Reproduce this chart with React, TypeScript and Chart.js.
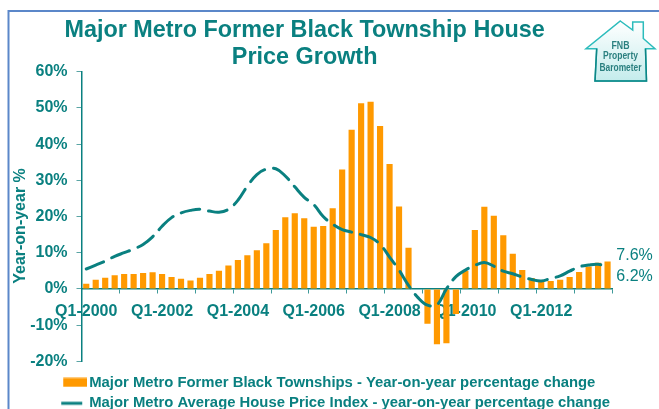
import React, { useEffect, useRef } from "react";
import { Chart, registerables } from "chart.js";

Chart.register(...registerables);

const TEAL = "#0a8080";
const FONT = "'Liberation Sans', Arial, sans-serif";

const categories = [
  "Q1-2000","Q2-2000","Q3-2000","Q4-2000","Q1-2001","Q2-2001","Q3-2001","Q4-2001",
  "Q1-2002","Q2-2002","Q3-2002","Q4-2002","Q1-2003","Q2-2003","Q3-2003","Q4-2003",
  "Q1-2004","Q2-2004","Q3-2004","Q4-2004","Q1-2005","Q2-2005","Q3-2005","Q4-2005",
  "Q1-2006","Q2-2006","Q3-2006","Q4-2006","Q1-2007","Q2-2007","Q3-2007","Q4-2007",
  "Q1-2008","Q2-2008","Q3-2008","Q4-2008","Q1-2009","Q2-2009","Q3-2009","Q4-2009",
  "Q1-2010","Q2-2010","Q3-2010","Q4-2010","Q1-2011","Q2-2011","Q3-2011","Q4-2011",
  "Q1-2012","Q2-2012","Q3-2012","Q4-2012","Q1-2013","Q2-2013","Q3-2013","Q4-2013",
];

const townshipValues = [
  1.4,2.5,3.1,3.8,4.1,4.1,4.4,4.6,4.1,3.3,2.8,2.3,3.1,4.1,5.0,6.5,
  8.0,9.3,10.7,12.6,16.3,19.8,20.9,19.5,17.2,17.4,22.3,33.0,44.0,51.3,51.7,45.0,
  34.5,22.8,11.4,0.1,-9.6,-15.3,-15.0,-6.9,5.0,16.3,22.7,20.2,14.8,9.7,5.2,3.0,
  2.0,2.2,2.5,3.3,4.7,6.2,7.2,7.6,
];

const metroValues = [
  5.5,6.6,7.7,9.0,10.0,11.0,12.3,14.4,17.3,19.7,21.0,21.7,22.0,21.5,21.2,22.0,
  24.5,28.4,31.6,33.1,33.2,31.2,28.2,25.3,23.3,20.0,17.9,16.4,15.7,15.0,14.2,12.3,
  8.8,5.2,1.0,-2.4,-4.5,-4.4,0.0,3.4,5.2,6.5,7.3,6.3,4.9,4.2,3.3,2.6,
  2.2,2.9,3.6,4.9,6.1,6.6,6.8,6.2,
];

const titleLines = ["Major Metro Former Black Township House", "Price Growth"];
const yAxisTitle = "Year-on-year %";
const legendLabels = [
  "Major Metro Former Black Townships - Year-on-year percentage change",
  "Major Metro Average House Price Index - year-on-year percentage change",
];
const logoLines = ["FNB", "Property", "Barometer"];

function swatch(total: number, x: number, w: number, h: number, color: string) {
  const c = document.createElement("canvas");
  c.width = total;
  c.height = 10;
  const g = c.getContext("2d")!;
  g.fillStyle = color;
  g.fillRect(x, (10 - h) / 2, w, h);
  return c;
}

const decorPlugin = {
  id: "decor",
  afterLayout(chart: any) {
    chart.legend.left = 57.75;
    chart.legend.top = 369;
  },
  beforeDraw(chart: any) {
    const c = chart.ctx;
    c.save();
    c.strokeStyle = "#5b87c9";
    c.lineWidth = 2;
    c.beginPath();
    c.moveTo(8.5, 409);
    c.lineTo(8.5, 11);
    c.lineTo(659, 11);
    c.stroke();
    c.restore();
  },
  afterDraw(chart: any) {
    const c = chart.ctx;
    const y = chart.scales.y;
    const x = chart.scales.x;
    c.save();
    c.fillStyle = TEAL;
    c.font = `bold 16px ${FONT}`;
    c.textAlign = "center";
    c.textBaseline = "middle";
    c.save();
    c.translate(21, 226);
    c.rotate(-Math.PI / 2);
    c.fillText(yAxisTitle, 0, 0);
    c.restore();

    c.font = `16px ${FONT}`;
    c.textAlign = "left";
    const lastBar = townshipValues[townshipValues.length - 1];
    const lastLine = metroValues[metroValues.length - 1];
    c.fillText(lastBar.toFixed(1) + "%", x.right + 4, y.getPixelForValue(lastBar) - 6);
    c.fillText(lastLine.toFixed(1) + "%", x.right + 4, y.getPixelForValue(lastLine) + 10);

    // logo
    const grad = c.createLinearGradient(0, 21, 0, 81);
    grad.addColorStop(0, "#ffffff");
    grad.addColorStop(1, "#c4ecec");
    c.beginPath();
    c.moveTo(620.3, 21);
    c.lineTo(632.7, 30);
    c.lineTo(632.7, 22);
    c.lineTo(643.3, 22);
    c.lineTo(643.3, 38.5);
    c.lineTo(655, 48.7);
    c.lineTo(645.5, 48.7);
    c.lineTo(646.5, 81);
    c.lineTo(595, 81);
    c.lineTo(596.7, 48.7);
    c.lineTo(586, 48.7);
    c.closePath();
    c.fillStyle = grad;
    c.fill();
    c.strokeStyle = "#2cbcbc";
    c.lineWidth = 1.5;
    c.stroke();
    c.beginPath();
    c.moveTo(645.5, 48.7);
    c.lineTo(646.5, 81);
    c.lineTo(595, 81);
    c.lineTo(596.7, 48.7);
    c.strokeStyle = "#0f8585";
    c.stroke();
    c.fillStyle = "#2a7f7f";
    c.font = `bold 10px ${FONT}`;
    c.textAlign = "center";
    logoLines.forEach((t, i) => c.fillText(t, 620.5, [46, 56.5, 68][i], [18, 35, 42][i]));
    c.restore();
  },
};

export default function App() {
  const ref = useRef<HTMLCanvasElement>(null);
  useEffect(() => {
    const barSwatch = swatch(29, 5, 24, 9, "#ff9900");
    const lineSwatch = swatch(29, 3, 21, 3, TEAL);
    const chart = new Chart(ref.current!, {
      type: "bar",
      data: {
        labels: categories,
        datasets: [
          {
            type: "line",
            label: legendLabels[1],
            data: metroValues,
            borderColor: TEAL,
            borderWidth: 3,
            borderDash: [19, 9],
            borderCapStyle: "round",
            pointRadius: 0,
            tension: 0.4,
            fill: false,
            order: 1,
          },
          {
            type: "bar",
            label: legendLabels[0],
            data: townshipValues,
            backgroundColor: "#ff9900",
            barPercentage: 0.65,
            categoryPercentage: 1,
            order: 2,
          },
        ],
      } as any,
      options: {
        responsive: false,
        animation: false,
        layout: { padding: { left: -3, right: 46.7, top: 0, bottom: -4 } },
        plugins: {
          tooltip: { enabled: false },
          title: {
            display: true,
            text: titleLines,
            color: TEAL,
            font: { family: FONT, size: 23.4, weight: "bold", lineHeight: 1.14 },
            padding: { top: 17.3, bottom: 1.1 },
          },
          legend: {
            position: "bottom",
            align: "start",
            labels: {
              color: TEAL,
              font: { family: FONT, size: 14.85, weight: "bold" },
              padding: 6,
              usePointStyle: true,
              pointStyleWidth: 18,
              boxHeight: 10,
              generateLabels: () => [
                { text: legendLabels[0], fontColor: TEAL, pointStyle: barSwatch, fillStyle: "#ff9900", strokeStyle: "#ff9900", lineWidth: 0, datasetIndex: 1 },
                { text: legendLabels[1], fontColor: TEAL, pointStyle: lineSwatch, fillStyle: TEAL, strokeStyle: TEAL, lineWidth: 0, datasetIndex: 0 },
              ],
            },
          },
        },
        scales: {
          x: {
            position: { y: 0 },
            offset: true,
            border: { color: TEAL, width: 1.5 },
            grid: {
              offset: true,
              drawOnChartArea: false,
              tickLength: 4,
              tickColor: (ctx: any) => ((ctx.index ?? 0) % 4 === 0 ? "#3f9a9a" : "transparent"),
            },
            ticks: {
              autoSkip: false,
              maxRotation: 0,
              minRotation: 0,
              padding: 9,
              color: TEAL,
              font: { family: FONT, size: 16, weight: "bold" },
              callback: (_v: any, i: number) => (i % 8 === 0 ? categories[i] : ""),
            },
          },
          y: {
            min: -20,
            max: 60,
            afterFit: (s: any) => {
              s.width = 84.5;
            },
            border: { color: TEAL, width: 1.5 },
            grid: { drawOnChartArea: false, tickLength: 5, tickColor: "#5aa5a5" },
            ticks: {
              stepSize: 10,
              padding: 9,
              color: TEAL,
              font: { family: FONT, size: 16, weight: "bold" },
              callback: (v: any) => v + "%",
            },
          },
        },
      },
      plugins: [decorPlugin],
    } as any);
    return () => chart.destroy();
  }, []);
  return (
    <div style={{ position: "fixed", left: 0, top: 0, width: 659, height: 409, background: "#fff" }}>
      <canvas ref={ref} width={659} height={409} style={{ display: "block" }} />
    </div>
  );
}
